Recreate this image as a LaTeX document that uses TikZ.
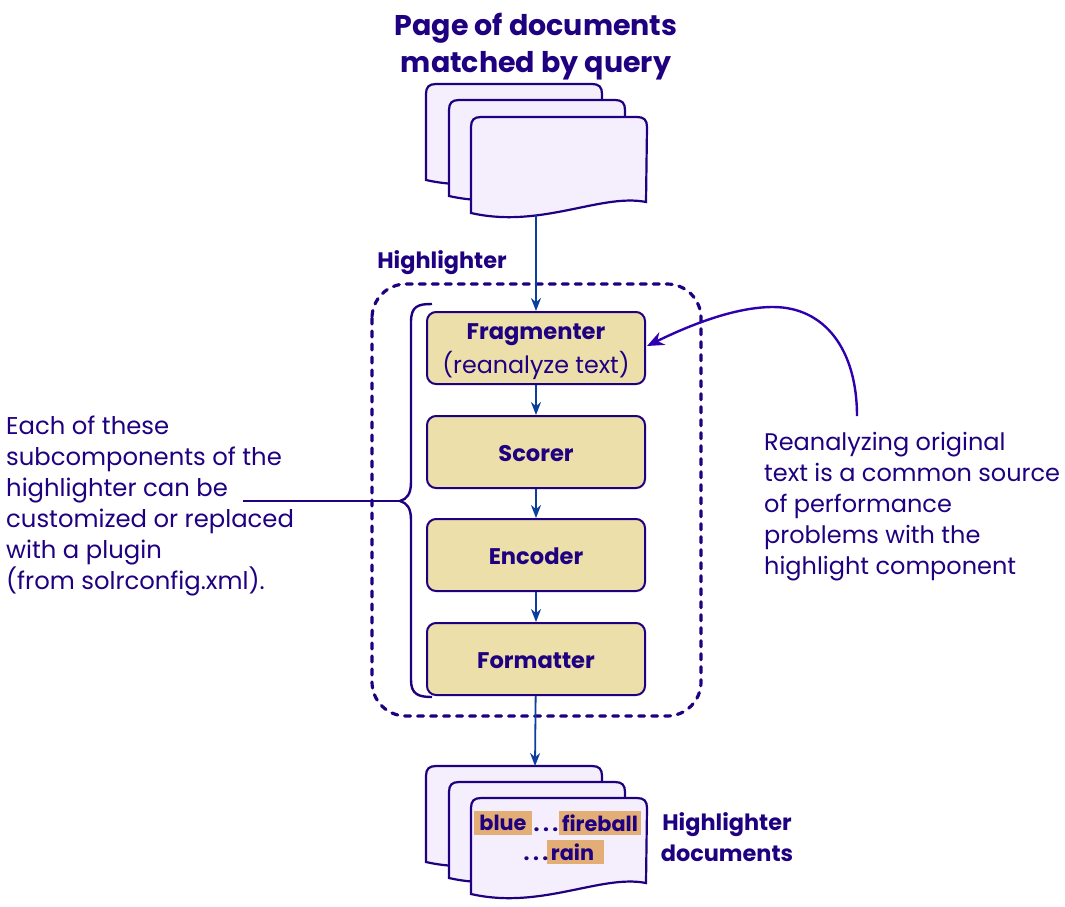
\documentclass[tikz,border=0pt]{standalone}
\usepackage{fontspec}
\setmainfont{Poppins}
\definecolor{inkblue}{HTML}{1F0080}
\definecolor{linkblue}{HTML}{0B3E9E}
\definecolor{curveblue}{HTML}{2E00B0}
\definecolor{pagefill}{HTML}{F5EFFD}
\definecolor{boxfill}{HTML}{ECDFA9}
\definecolor{markfill}{HTML}{E3AE76}
\usetikzlibrary{arrows.meta}
\newcommand{\DocPage}[2]{%
  \draw[pageline] (#1,#2+96) -- (#1,#2+10) .. controls (#1,#2+3) and (#1+3,#2) .. (#1+10,#2)
    -- (#1+166,#2) .. controls (#1+173,#2) and (#1+176,#2+3) .. (#1+176,#2+10) -- (#1+175,#2+85)
    .. controls (#1+130,#2+76) and (#1+70,#2+112) .. (#1,#2+96) -- cycle;}
\begin{document}
\begin{tikzpicture}[x=1pt,y=-1pt,
    pageline/.style={draw=inkblue,fill=pagefill,line width=2.2pt},
    stage/.style={draw=inkblue,fill=boxfill,line width=2pt,rounded corners=9pt,minimum width=218pt,minimum height=72pt,inner sep=0pt,align=center,text=inkblue},
    stagename/.style={text=inkblue,inner sep=0pt,font=\fontsize{22.6}{26}\selectfont\bfseries},
    note/.style={text=inkblue,align=left,font=\fontsize{24}{31}\selectfont,inner sep=0pt},
    head/.style={text=inkblue,align=center,font=\fontsize{28.5}{37}\selectfont\bfseries,inner sep=0pt},
    label/.style={text=inkblue,align=center,font=\fontsize{22.4}{31}\selectfont\bfseries,inner sep=0pt},
    wordmark/.style={fill=markfill,text=inkblue,inner sep=0pt,minimum height=24pt,font=\fontsize{20.8}{24}\selectfont\bfseries},
    flow/.style={draw=linkblue,line width=1.8pt,-{Stealth[length=13pt,width=10pt]}},
    inkline/.style={draw=inkblue,line width=2.4pt}]
  \useasboundingbox (0,0) rectangle (1065,906);
  % input pages
  \node[head] (TITLE) at (536,47) {Page of documents\\matched by query};
  \DocPage{426}{84}
  \DocPage{449}{100}
  \DocPage{471}{117}
  \coordinate (PAGEIN) at (536,215);
  % highlighter
  \node[label] (HL) at (442,263) {Highlighter};
  \draw[inkblue,line width=3.2pt,line cap=round,dash pattern=on 6pt off 7pt,rounded corners=34pt] (372,284) rectangle (701,716);
  \node[stage] (FRAG) at (536,348) {};
  \node[stagename] (FRAGNAME) at (536,335) {Fragmenter};
  \node[text=inkblue,inner sep=0pt,font=\fontsize{23.8}{28}\selectfont] (FRAGNOTE) at (536,365) {(reanalyze text)};
  \node[stage] (SCORE) at (536,452) {};
  \node[stagename] (SCORENAME) at (536,454) {Scorer};
  \node[stage] (ENC) at (536,555) {};
  \node[stagename] (ENCNAME) at (536,556) {Encoder};
  \node[stage] (FORM) at (536,659) {};
  \node[stagename] (FORMNAME) at (536,661) {Formatter};
  \draw[flow] (PAGEIN) -- (FRAG);
  \draw[flow] (FRAG) -- (SCORE);
  \draw[flow] (SCORE) -- (ENC);
  \draw[flow] (ENC) -- (FORM);
  % output pages
  \DocPage{426}{766}
  \DocPage{449}{782}
  \DocPage{471}{798}
  \coordinate (PAGEOUT) at (535,766);
  \draw[flow] (FORM) -- (PAGEOUT);
  \node[wordmark,minimum width=58pt] (BLUE) at (503,823) {blue};
  \node[wordmark,minimum width=82pt] (FIRE) at (600,823) {fireball};
  \node[wordmark,minimum width=57pt] (RAIN) at (575.5,852) {rain\phantom{i}};
  \node[text=inkblue,font=\fontsize{21}{24}\selectfont\bfseries,inner sep=0pt,anchor=base] (DOTSA) at (546,831) {.\,.\,.};
  \node[text=inkblue,font=\fontsize{21}{24}\selectfont\bfseries,inner sep=0pt,anchor=base] (DOTSB) at (536,860) {.\,.\,.};
  \node[label] (OUT) at (727,837) {Highlighter\\documents};
  % left note and brace
  \node[note,anchor=north west,font=\fontsize{24.3}{31}\selectfont] (LEFT) at (6,416) {Each of these\\subcomponents of the\\highlighter can be\\customized or replaced\\with a plugin\\(from solrconfig.xml).};
  \coordinate (TIP) at (400,501);
  \coordinate (LINE) at (243,501);
  \draw[inkline] (432,304) .. controls (418,304) and (411,306) .. (411,322) -- (411,482)
    .. controls (411,494) and (407,499) .. (TIP) .. controls (407,503) and (411,508) .. (411,520) -- (411,680)
    .. controls (411,694) and (418,697) .. (432,697);
  \draw[inkline] (LINE) -- (TIP);
  % right note
  \node[note,anchor=north west] (RIGHT) at (764,432) {Reanalyzing original\\text is a common source\\of performance\\problems with the\\highlight component};
  \coordinate (BEND) at (857,416);
  \coordinate (PEAK) at (773,307);
  \draw[draw=curveblue,line width=2.4pt,-{Stealth[length=17pt,width=14pt]}] (BEND) .. controls (857,350) and (825,307) .. (PEAK)
    .. controls (735,307) and (690,325) .. ([yshift=2pt,xshift=1pt]FRAG.east);
\end{tikzpicture}
\end{document}
